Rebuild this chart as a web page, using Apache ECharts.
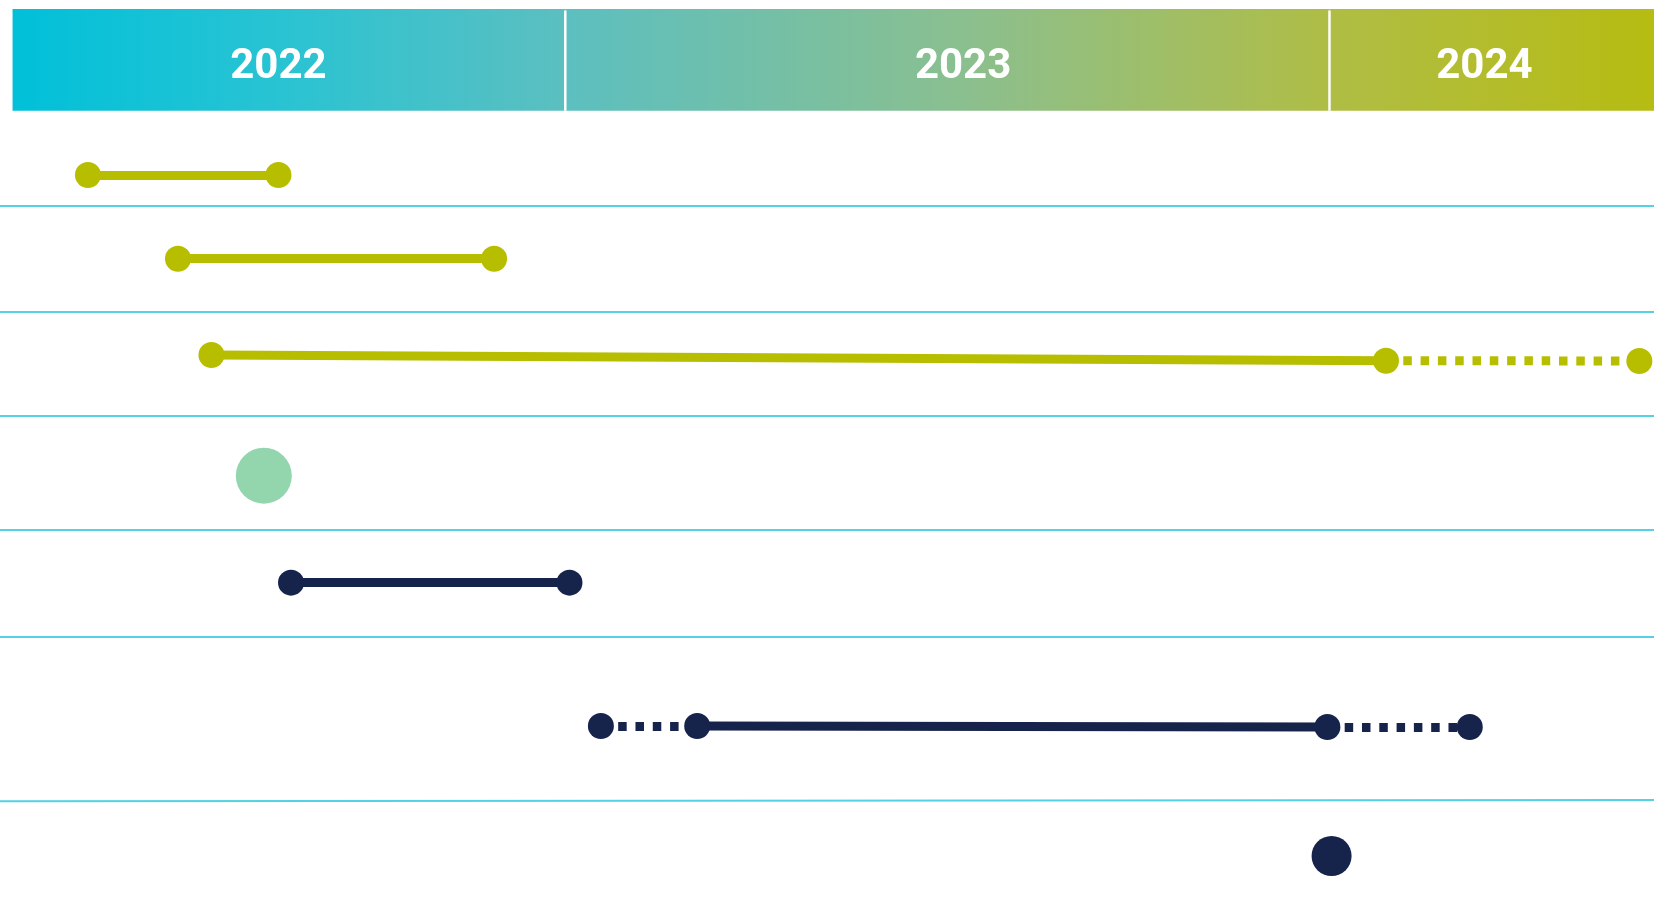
<!DOCTYPE html>
<html>
<head>
<meta charset="utf-8">
<script src="https://cdn.jsdelivr.net/npm/echarts@6/dist/echarts.min.js"></script>
<style>
html,body{margin:0;padding:0;background:#fff;}
#chart{width:1654px;height:909px;}
</style>
</head>
<body>
<div id="chart"></div>
<script>
// ---- axis range (time) ----
const xMin = '2022-04-06';
const xMax = '2024-06-04';

// ---- header (year bands) ----
const yearLabels = ['2022', '2023', '2024'];
const yearStarts = ['2022-04-12', '2023-01-01', '2024-01-01'];
const yearEnds = ['2023-01-01', '2024-01-01', '2024-06-04'];
const yearLabelDates = ['2022-08-17', '2023-07-10', '2024-03-15'];
const headerTop = 0.99, headerBottom = 12.18, headerLabelY = 7.4;

// ---- row separators [yLeft, yRight] ----
const separatorY = [[22.66, 22.66], [34.32, 34.32], [45.73, 45.73], [58.31, 58.31], [70.04, 70.04], [88.15, 88.01]];

// ---- segments: [[startDate, y], [endDate, y]] ----
const oliveSolid = [
  [['2022-05-18', 19.25], ['2022-08-17', 19.25]],
  [['2022-06-30', 28.46], ['2022-11-28', 28.46]],
  [['2022-07-16', 39.05], ['2024-01-28', 39.68]]
];
const oliveDotted = [
  [['2024-01-28', 39.68], ['2024-05-28', 39.71]]
];
const navySolid = [
  [['2022-08-23', 64.10], ['2023-01-03', 64.10]],
  [['2023-03-05', 79.87], ['2023-12-31', 79.98]]
];
const navyDotted = [
  [['2023-01-18', 79.87], ['2023-03-05', 79.87]],
  [['2023-12-31', 79.98], ['2024-03-08', 79.98]]
];
// ---- milestones ----
const greenMilestones = [['2022-08-10', 52.33]];
const navyMilestones = [['2024-01-02', 94.17]];

// ---- colours ----
const OLIVE = '#b7be00', NAVY = '#16234b', GREEN = '#93d6ae', CYAN = '#52d2e2';

const ts = s => new Date(s + 'T00:00:00').getTime();
const segData = segs => segs.map(s => ({ coords: s.map(p => [ts(p[0]), p[1]]) }));
const endPoints = segs => {
  const seen = {}; const out = [];
  segs.forEach(s => s.forEach(p => { const k = p[0] + '|' + p[1]; if (!seen[k]) { seen[k] = 1; out.push([ts(p[0]), p[1]]); } }));
  return out;
};

const chart = echarts.init(document.getElementById('chart'));

const headerData = yearLabels.map((l, i) => [ts(yearStarts[i]), ts(yearEnds[i]), ts(yearLabelDates[i]), headerTop]);

const option = {
  animation: false,
  grid: { left: 0, right: 0, top: 0, bottom: 0 },
  xAxis: {
    type: 'time', min: ts(xMin), max: ts(xMax),
    axisLine: { show: false }, axisTick: { show: false }, axisLabel: { show: false }, splitLine: { show: false }
  },
  yAxis: {
    type: 'value', min: 0, max: 100, inverse: true,
    axisLine: { show: false }, axisTick: { show: false }, axisLabel: { show: false }, splitLine: { show: false }
  },
  series: [
    {
      type: 'custom',
      data: headerData,
      encode: { x: [0, 1], y: 3 },
      z: 1,
      renderItem: function (params, api) {
        const i = params.dataIndex;
        const p0 = api.coord([api.value(0), headerTop]);
        const p1 = api.coord([api.value(1), headerBottom]);
        const g0 = api.coord([ts(yearStarts[0]), headerTop])[0];
        const g1 = api.coord([ts(yearEnds[yearEnds.length - 1]), headerTop])[0];
        const lp = api.coord([api.value(2), headerLabelY]);
        const grad = new echarts.graphic.LinearGradient(g0, 0, g1, 0, [
          { offset: 0, color: '#00c0d9' },
          { offset: 0.16, color: '#28c3d3' },
          { offset: 0.337, color: '#5cbfc0' },
          { offset: 0.58, color: '#8bbf8f' },
          { offset: 0.80, color: '#afbd46' },
          { offset: 1, color: '#b6bc12' }
        ], true);
        const children = [
          { type: 'rect', shape: { x: p0[0], y: p0[1], width: p1[0] - p0[0], height: p1[1] - p0[1] }, style: { fill: grad } },
          { type: 'text', x: lp[0], y: lp[1], style: { text: yearLabels[i], fill: '#ffffff', font: 'bold 42px Roboto', align: 'center', verticalAlign: 'middle' } }
        ];
        if (i > 0) {
          children.push({ type: 'line', shape: { x1: p0[0], y1: p0[1] + 1.5, x2: p0[0], y2: p1[1] }, style: { stroke: '#ffffff', lineWidth: 2.5 } });
        }
        return { type: 'group', children: children };
      }
    },
    {
      type: 'lines', coordinateSystem: 'cartesian2d', z: 2, silent: true,
      data: separatorY.map(s => ({ coords: [[ts(xMin), s[0]], [ts(xMax), s[1]]] })),
      lineStyle: { color: CYAN, width: 2, opacity: 1 }
    },
    {
      type: 'lines', coordinateSystem: 'cartesian2d', z: 3, silent: true,
      data: segData(oliveSolid),
      lineStyle: { color: OLIVE, width: 9, opacity: 1 }
    },
    {
      type: 'lines', coordinateSystem: 'cartesian2d', z: 3, silent: true,
      data: segData(oliveDotted),
      lineStyle: { color: OLIVE, width: 9, opacity: 1, type: [8.5, 8.8], cap: 'butt' }
    },
    {
      type: 'lines', coordinateSystem: 'cartesian2d', z: 3, silent: true,
      data: segData(navySolid),
      lineStyle: { color: NAVY, width: 9, opacity: 1 }
    },
    {
      type: 'lines', coordinateSystem: 'cartesian2d', z: 3, silent: true,
      data: segData(navyDotted),
      lineStyle: { color: NAVY, width: 9, opacity: 1, type: [8.5, 8.8], cap: 'butt' }
    },
    {
      type: 'scatter', z: 4, symbol: 'circle', symbolSize: 26,
      itemStyle: { color: OLIVE, opacity: 1 },
      data: endPoints(oliveSolid.concat(oliveDotted))
    },
    {
      type: 'scatter', z: 4, symbol: 'circle', symbolSize: 26,
      itemStyle: { color: NAVY, opacity: 1 },
      data: endPoints(navySolid.concat(navyDotted))
    },
    {
      type: 'scatter', z: 4, symbol: 'circle', symbolSize: 56,
      itemStyle: { color: GREEN, opacity: 1 },
      data: greenMilestones.map(p => [ts(p[0]), p[1]])
    },
    {
      type: 'scatter', z: 4, symbol: 'circle', symbolSize: 40,
      itemStyle: { color: NAVY, opacity: 1 },
      data: navyMilestones.map(p => [ts(p[0]), p[1]])
    }
  ]
};
chart.setOption(option);
</script>
</body>
</html>
